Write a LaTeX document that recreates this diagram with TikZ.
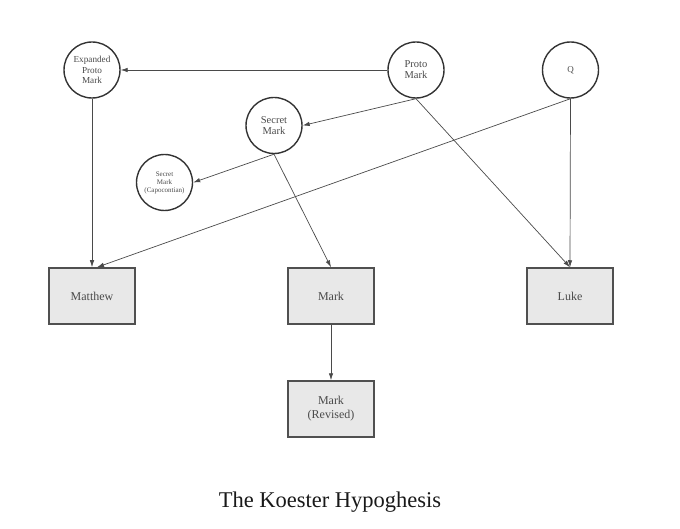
\documentclass[tikz,border=0pt]{standalone}
\usepackage{fontspec}
\setmainfont{Liberation Serif}
\usetikzlibrary{arrows.meta}
\definecolor{edgec}{HTML}{4A4A4A}
\definecolor{circc}{HTML}{333333}
\definecolor{boxfill}{HTML}{E8E8E8}
\definecolor{boxline}{HTML}{505050}
\definecolor{txt}{HTML}{4A4A4A}
\begin{document}
\begin{tikzpicture}[x=1pt,y=-1pt,
  circ/.style={circle, draw=circc, line width=1.4pt, minimum size=56pt, inner sep=0pt, align=center, text=txt},
  gbox/.style={rectangle, draw=boxline, fill=boxfill, line width=1.5pt, minimum width=86pt, minimum height=56pt, inner sep=0pt, align=center, text=txt, font=\fontsize{12}{14}\selectfont},
  conn/.style={draw=edgec, line width=0.7pt, -{Latex[length=7pt,width=4.5pt]}}
]
\useasboundingbox (0,0) rectangle (680,529);
\node[circ, font=\fontsize{9.2}{10.5}\selectfont] (epm) at (92,70) {Expanded\\Proto\\Mark};
\node[circ, font=\fontsize{10.5}{11}\selectfont] (pm) at (416,70) {Proto\\Mark};
\node[circ, font=\fontsize{9}{10}\selectfont] (q) at (570.5,70) {Q};
\node[circ, font=\fontsize{10.5}{11}\selectfont] (sm) at (274,125.5) {Secret\\Mark};
\node[circ, font=\fontsize{7}{8}\selectfont] (cap) at (164.5,182.5) {Secret\\Mark\\(Capocontian)};
\node[gbox] (mt) at (92,296) {Matthew};
\node[gbox] (mk) at (331,296) {Mark};
\node[gbox] (lk) at (570,296) {Luke};
\node[gbox] (mr) at (331,409) {Mark\\(Revised)};
\node[text=black!90, font=\fontsize{22.5}{24}\selectfont] (title) at (330,502) {The Koester Hypoghesis};
\draw[conn] (pm.west) -- (epm.east);
\draw[conn] (pm.south) -- (sm.east);
\draw[conn] (sm.south) -- (cap.east);
\draw[conn] (epm.south) -- (mt.north);
\draw[conn] (q.south) -- ([xshift=5pt]mt.north);
\draw[conn] (sm.south) -- (mk.north);
\draw[conn] (pm.south) -- (lk.north);
\draw[conn] (q.south) -- (lk.north);
\draw[conn] (mk.south) -- (mr.north);
\end{tikzpicture}
\end{document}
